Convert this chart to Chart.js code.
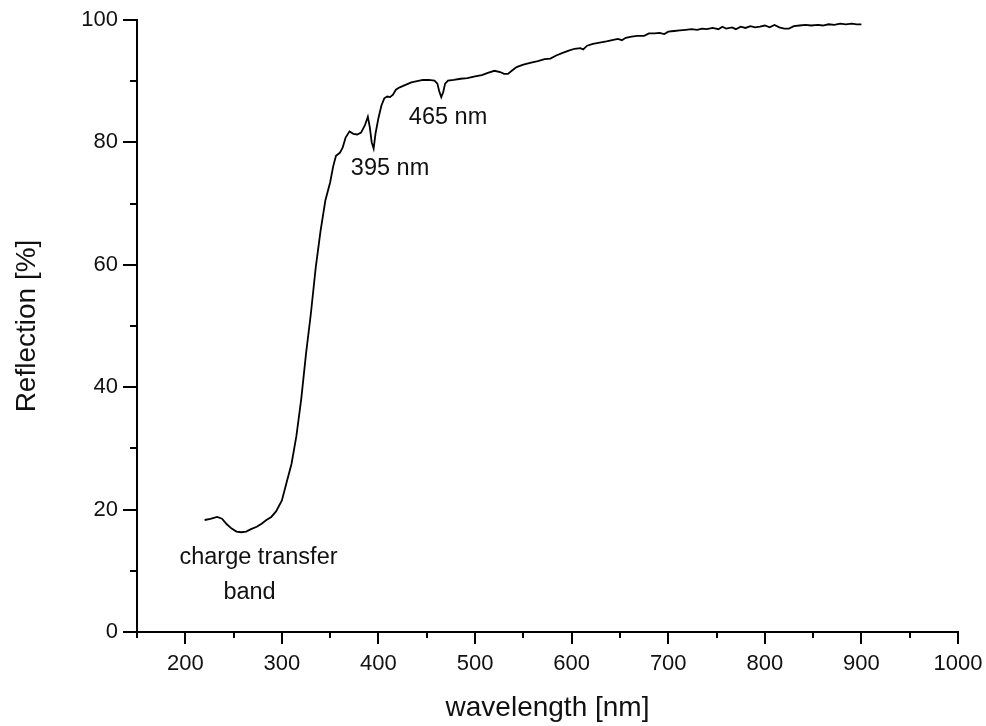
<!DOCTYPE html>
<html>
<head>
<meta charset="utf-8">
<script src="https://cdn.jsdelivr.net/npm/chart.js@4/dist/chart.umd.min.js"></script>
<style>
  html, body { margin: 0; padding: 0; background: #fff; }
  #wrap { width: 986px; height: 726px; }
</style>
</head>
<body>
<div id="wrap"><canvas id="reflChart" width="986" height="726"></canvas></div>
<script>
// wavelength [nm] and reflection [%]
const wavelength = [
  220, 226, 233, 238, 243, 248, 253, 258, 263, 268, 274, 279, 284, 289, 294,
  300, 305, 310, 315, 320, 325, 330, 335, 340, 345, 350, 353, 356, 360, 363,
  366, 370, 374, 378, 382, 386, 389, 391, 393, 395, 397, 400, 403, 406, 409,
  412, 415, 418, 422, 428, 434, 440, 446, 452, 458, 461, 463, 465, 467, 469,
  472, 478, 485, 492, 500, 507, 514, 520, 526, 530, 534, 538, 543, 550, 557,
  565, 572, 578, 584, 590, 597, 603, 609, 612, 616, 622, 629, 636, 642, 648,
  652, 656, 662, 668, 675, 680, 686, 691, 696, 700, 706, 712, 718, 724, 730,
  735, 740, 746, 752, 756, 760, 766, 770, 775, 780, 785, 790, 795, 800, 805,
  810, 815, 820, 825, 830, 836, 842, 848, 855, 860, 866, 872, 878, 884, 890,
  895, 900
];
const reflection = [
  18.3, 18.5, 18.8, 18.5, 17.6, 16.9, 16.4, 16.3, 16.4, 16.8, 17.2, 17.7, 18.3, 18.8, 19.7,
  21.5, 24.5, 27.5, 32.0, 38.0, 45.5, 52.0, 59.5, 65.5, 70.5, 73.5, 76.0, 77.8, 78.3, 79.2,
  80.8, 81.8, 81.4, 81.3, 81.6, 82.8, 84.2, 82.5, 80.0, 79.0, 81.5, 84.0, 86.0, 87.2, 87.5,
  87.4, 87.8, 88.6, 89.0, 89.4, 89.8, 90.0, 90.2, 90.2, 90.1, 89.6, 88.3, 87.4, 88.2, 89.6,
  90.1, 90.2, 90.4, 90.5, 90.8, 91.0, 91.4, 91.7, 91.5, 91.2, 91.2, 91.7, 92.3, 92.7, 93.0,
  93.3, 93.6, 93.7, 94.2, 94.6, 95.0, 95.3, 95.4, 95.2, 95.8, 96.1, 96.3, 96.5, 96.7, 96.9,
  96.7, 97.1, 97.3, 97.4, 97.4, 97.8, 97.8, 97.9, 97.7, 98.1, 98.2, 98.3, 98.4, 98.5, 98.4,
  98.6, 98.5, 98.7, 98.5, 98.9, 98.6, 98.8, 98.5, 98.9, 98.7, 99.0, 98.8, 98.9, 99.1, 98.8,
  99.2, 98.8, 98.6, 98.6, 99.0, 99.1, 99.2, 99.1, 99.2, 99.1, 99.3, 99.2, 99.4, 99.3, 99.4,
  99.3, 99.3
];
const xTickLabels = [200, 300, 400, 500, 600, 700, 800, 900, 1000];
const yTickLabels = [0, 20, 40, 60, 80, 100];
const noteTexts = ["395 nm", "465 nm", "charge transfer", "band"];

const FONT = "'Liberation Sans', Arial, Helvetica, sans-serif";

// tick marks (long = labelled, short = in between) drawn on the axes
const tickMarks = {
  id: "tickMarks",
  afterDraw(chart) {
    const { ctx, scales } = chart;
    const xs = scales.x, ys = scales.y;
    ctx.save();
    ctx.strokeStyle = "#000";
    ctx.lineWidth = 2;
    xs.ticks.forEach((t) => {
      const px = Math.round(xs.getPixelForValue(t.value));
      const len = xTickLabels.includes(t.value) ? 12 : 6;
      ctx.beginPath();
      ctx.moveTo(px, xs.top);
      ctx.lineTo(px, xs.top + len);
      ctx.stroke();
    });
    ys.ticks.forEach((t) => {
      const py = Math.round(ys.getPixelForValue(t.value));
      const len = yTickLabels.includes(t.value) ? 14 : 7;
      ctx.beginPath();
      ctx.moveTo(ys.right, py);
      ctx.lineTo(ys.right - len, py);
      ctx.stroke();
    });
    ctx.restore();
  },
};

// text notes on the plot
const notes = {
  id: "notes",
  afterDatasetsDraw(chart) {
    const { ctx, scales } = chart;
    const spots = [
      [412, 75.8],
      [472, 84.1],
      [275.8, 12.25],
      [266.5, 6.5],
    ];
    ctx.save();
    ctx.fillStyle = "#111";
    ctx.font = "23.5px " + FONT;
    ctx.textAlign = "center";
    ctx.textBaseline = "middle";
    noteTexts.forEach((txt, i) => {
      ctx.fillText(
        txt,
        scales.x.getPixelForValue(spots[i][0]),
        scales.y.getPixelForValue(spots[i][1]),
      );
    });
    ctx.restore();
  },
};

new Chart(document.getElementById("reflChart"), {
  type: "line",
  data: {
    datasets: [
      {
        data: wavelength.map((w, i) => ({ x: w, y: reflection[i] })),
        borderColor: "#000",
        borderWidth: 1.8,
        pointRadius: 0,
        tension: 0,
        fill: false,
      },
    ],
  },
  options: {
    responsive: false,
    animation: false,
    layout: { padding: { top: 20, right: 28, left: 0, bottom: 0 } },
    plugins: {
      legend: { display: false },
      tooltip: { enabled: false },
    },
    scales: {
      x: {
        type: "linear",
        min: 150,
        max: 1000,
        afterFit: (s) => {
          s.height = 94;
          s.paddingLeft = 0;
          s.paddingRight = 0;
        },
        grid: { display: false },
        border: { display: true, color: "#000", width: 2 },
        ticks: {
          stepSize: 50,
          padding: 11,
          color: "#111",
          font: { size: 22, family: FONT },
          maxRotation: 0,
          autoSkip: false,
          callback: (v) => (xTickLabels.includes(v) ? String(v) : ""),
        },
        title: {
          display: true,
          text: "wavelength [nm]",
          color: "#111",
          font: { size: 28, family: FONT },
          padding: { top: 0, bottom: 1 },
        },
      },
      y: {
        min: 0,
        max: 100,
        afterFit: (s) => {
          s.width = 137;
          s.paddingTop = 0;
          s.paddingBottom = 0;
        },
        grid: { display: false },
        border: { display: true, color: "#000", width: 2 },
        ticks: {
          stepSize: 10,
          padding: 11,
          color: "#111",
          font: { size: 22, family: FONT },
          autoSkip: false,
          callback: (v) => (yTickLabels.includes(v) ? String(v) : ""),
        },
        title: {
          display: true,
          text: "Reflection [%]",
          color: "#111",
          font: { size: 28, family: FONT },
          padding: { top: 10, bottom: 0 },
        },
      },
    },
  },
  plugins: [tickMarks, notes],
});
</script>
</body>
</html>
